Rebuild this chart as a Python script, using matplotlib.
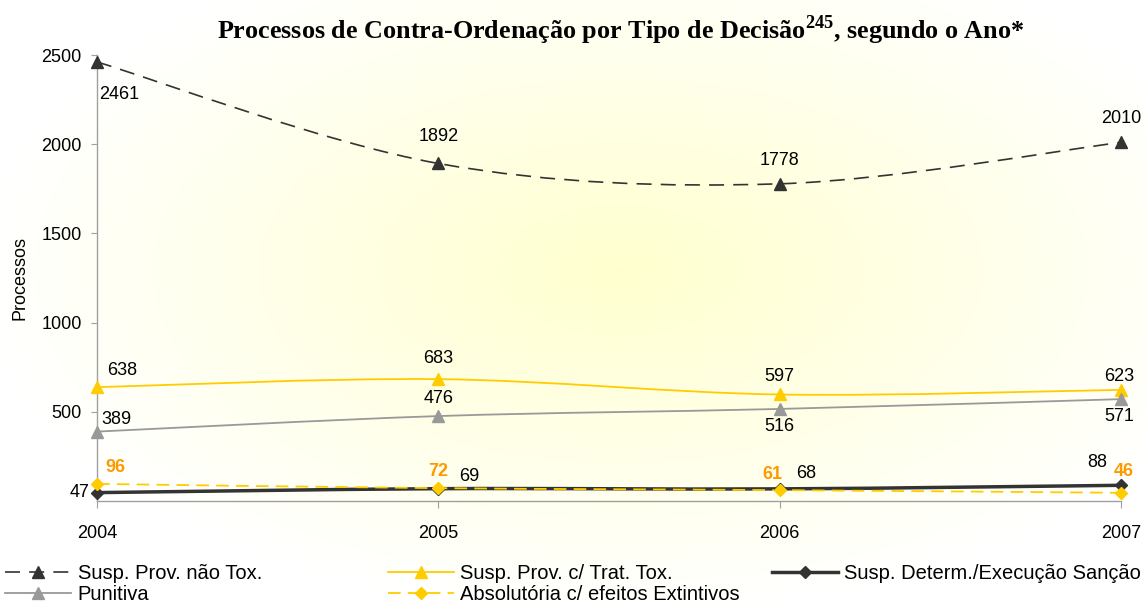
import numpy as np
import matplotlib
matplotlib.use('Agg')
import matplotlib.pyplot as plt
from matplotlib.path import Path
from matplotlib.patches import PathPatch
from matplotlib.lines import Line2D

plt.rcParams['font.family'] = ['Liberation Sans', 'DejaVu Sans']
plt.rcParams['mathtext.fontset'] = 'custom'
plt.rcParams['mathtext.rm'] = 'Liberation Serif:bold'
plt.rcParams['mathtext.bf'] = 'Liberation Serif:bold'

# Data
anos = [2004, 2005, 2006, 2007]
nao_tox = [2461, 1892, 1778, 2010]
trat_tox = [638, 683, 597, 623]
determ = [47, 69, 68, 88]
punitiva = [389, 476, 516, 571]
absolutoria = [96, 72, 61, 46]
nomes = ['Susp. Prov. não Tox.', 'Susp. Prov. c/ Trat. Tox.',
         'Susp. Determ./Execução Sanção', 'Punitiva',
         'Absolutória c/ efeitos Extintivos']


def smooth_path(xs, ys):
    # bezier segments, like the Excel "smoothed line"
    pts = [np.array(p, float) for p in zip(xs, ys)]
    n = len(pts)
    verts = [tuple(pts[0])]
    codes = [Path.MOVETO]
    for i in range(n - 1):
        p0 = pts[max(i - 1, 0)]
        p1 = pts[i]
        p2 = pts[i + 1]
        p3 = pts[min(i + 2, n - 1)]
        c1 = p1 + (p2 - p0) / 6
        c2 = p2 - (p3 - p1) / 6
        verts += [tuple(c1), tuple(c2), tuple(p2)]
        codes += [Path.CURVE4] * 3
    return Path(verts, codes)


fig = plt.figure(figsize=(11.47, 6.03), dpi=100)

# soft yellow background glow
bg = fig.add_axes([0, 0, 1, 1], zorder=-5)
yy, xx = np.mgrid[0:603, 0:1147]
d = np.sqrt(((xx - 620) / 640.0) ** 2 + ((yy - 270) / 340.0) ** 2)
t = np.clip(1 - d, 0, 1)
img = np.ones((603, 1147, 3))
img[..., 2] = 1 - t * 0.19
bg.imshow(img, aspect='auto', interpolation='bilinear')
bg.axis('off')

ax = fig.add_axes([97 / 1147, 102 / 603, 1024 / 1147, 446 / 603])
ax.patch.set_alpha(0)
ax.set_xlim(2004, 2007)
ax.set_ylim(0, 2500)

dark = '#333333'
yellow = '#FFCC00'
grey = '#999999'
orange = '#FF9900'

series = [
    (nao_tox, dict(color=dark, lw=1.2, ls=(0, (9, 5.5)), marker='^', ms=8)),
    (trat_tox, dict(color=yellow, lw=1.3, ls='-', marker='^', ms=8)),
    (determ, dict(color=dark, lw=2.5, ls='-', marker='D', ms=6)),
    (punitiva, dict(color=grey, lw=1.3, ls='-', marker='^', ms=8)),
    (absolutoria, dict(color=yellow, lw=1.3, ls=(0, (7, 4)), marker='D', ms=6)),
]

handles = []
for vals, st in series:
    patch = PathPatch(smooth_path(anos, vals), fill=False, edgecolor=st['color'],
                      lw=st['lw'], linestyle=st['ls'], clip_on=False, zorder=3)
    ax.add_patch(patch)
    ax.plot(anos, vals, ls='none', marker=st['marker'], ms=st['ms'],
            color=st['color'], clip_on=False, zorder=4)
    handles.append(Line2D([], [], color=st['color'], lw=st['lw'], ls=st['ls'],
                          marker=st['marker'], ms=st['ms']))

# data labels: offsets in pixels (dx, dy)
lbl_offsets = [
    [(2, -33, 'left'), (0, 27, 'center'), (0, 23, 'center'), (0, 24, 'center')],
    [(25, 17, 'center'), (0, 21, 'center'), (0, 18, 'center'), (-2, 13, 'center')],
    [(-7, 0, 'right'), (31, 12, 'center'), (27, 15, 'center'), (-24, 23, 'center')],
    [(19, 12, 'center'), (0, 18, 'center'), (0, -18, 'center'), (-2, -17, 'center')],
    [(18, 16, 'center'), (0, 17, 'center'), (-7, 16, 'center'), (3, 21, 'center')],
]
for k, (vals, st) in enumerate(series):
    is_abs = k == 4
    for x, v, (dx, dy, ha) in zip(anos, vals, lbl_offsets[k]):
        ax.annotate(str(v), (x, v), xytext=(dx, dy), textcoords='offset pixels',
                    ha=ha, va='center', fontsize=13,
                    color=orange if is_abs else 'black',
                    fontweight='bold' if is_abs else 'normal',
                    annotation_clip=False, zorder=5)

for s in ['top', 'right']:
    ax.spines[s].set_visible(False)
for s in ['left', 'bottom']:
    ax.spines[s].set_color('#A0A0A0')
    ax.spines[s].set_linewidth(1.0)

ax.set_xticks(anos)
ax.set_xticklabels([str(a) for a in anos])
ax.set_yticks([500, 1000, 1500, 2000, 2500])
ax.tick_params(axis='x', colors='#A0A0A0', labelcolor='black', length=5,
               pad=12, labelsize=13)
ax.tick_params(axis='y', colors='#A0A0A0', labelcolor='black', length=4,
               pad=7, labelsize=13)
ax.set_ylabel('Processos', fontsize=13)
ax.yaxis.set_label_coords(-0.067, 0.5)

fig.text(0.541, 0.950,
         r'Processos de Contra-Ordenação por Tipo de Decisão$^{\mathbf{245}}$, segundo o Ano*',
         ha='center', va='center', fontsize=18.8, fontweight='bold',
         family='Liberation Serif')

# legend in three fixed-width columns
cols = [([0, 3], 5), ([1, 4], 388), ([2], 772)]
for idx, xpix in cols:
    lg = fig.legend([handles[i] for i in idx], [nomes[i] for i in idx],
                    loc='upper left', bbox_to_anchor=(xpix / 1147, 1 - 564 / 603),
                    frameon=False, fontsize=14.5, handlelength=3.3,
                    handletextpad=0.3, labelspacing=0.08, borderpad=0,
                    borderaxespad=0)

fig.savefig('out.png', dpi=100)
